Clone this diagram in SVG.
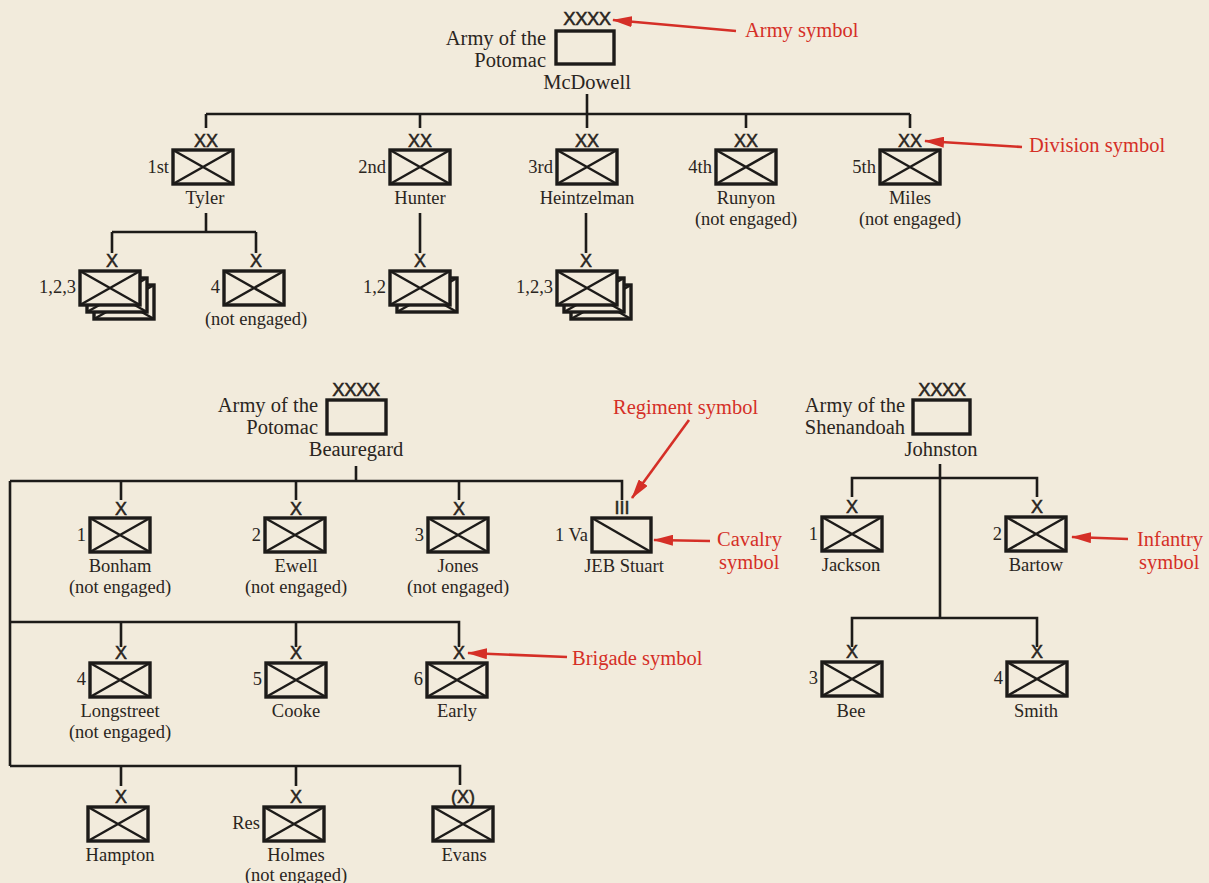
<svg xmlns="http://www.w3.org/2000/svg" width="1209" height="883" viewBox="0 0 1209 883">
<defs>
<style>
.bg{fill:#f2ebdc}
.ln{stroke:#1d1b19;stroke-width:2.6;fill:none}
.box{stroke:#1d1b19;stroke-width:3.4;fill:none}
.boxf{stroke:#1d1b19;stroke-width:3.4;fill:#f2ebdc}
.cr{stroke:#1d1b19;stroke-width:2.5;fill:none}
.t{font-family:"Liberation Serif","Times New Roman",serif;font-size:18.5px;fill:#2a2521}
.big{font-size:20.5px}
.m{text-anchor:middle}
.e{text-anchor:end}
.s{font-family:"Liberation Sans",Arial,sans-serif;font-size:18px;fill:#2a2521;stroke:#2a2521;stroke-width:0.5;text-anchor:middle}
.a4{font-size:18.5px;letter-spacing:-0.5px}
.r{font-family:"Liberation Serif","Times New Roman",serif;font-size:20.5px;fill:#d52f27}
.ra{stroke:#d52f27;stroke-width:2.6;fill:none}
</style>
<marker id="ah" viewBox="0 0 20 11" refX="19" refY="5.5" markerWidth="20" markerHeight="11" markerUnits="userSpaceOnUse" orient="auto"><path d="M0,0 L20,5.5 L0,11 Z" fill="#d52f27"/></marker>
<g id="inf"><rect width="60" height="34" class="boxf"/><path d="M0,0L60,34M60,0L0,34" class="cr"/></g>
</defs>
<rect width="1209" height="883" class="bg"/>

<g id="connectors">
<path class="ln" d="M587,94V114M206,114H910M206,114V128M420,114V128M587,114V128M746,114V128M910,114V128"/>
<path class="ln" d="M206,213V232M112,232H256M112,232V253M256,232V253M420,213V253M586,213V253"/>
<path class="ln" d="M356,466V481M10,481H622V500M10,481V766M121,481V500M296,481V500M459,481V500"/>
<path class="ln" d="M10,622H459V647M121,622V647M296,622V647"/>
<path class="ln" d="M10,766H460V785M121,766V786M296,766V786"/>
<path class="ln" d="M940,464V618M852,497V478H1037V497M852,647V618H1037V647"/>
</g>

<g id="army-potomac-union">
<text class="s a4" x="587" y="25">XXXX</text>
<rect class="box" x="556" y="31" width="58" height="33"/>
<text class="t big e" x="546" y="45">Army of the</text>
<text class="t big e" x="546" y="67">Potomac</text>
<text class="t big m" x="587" y="89">McDowell</text>
</g>

<g id="div-1st">
<text class="s" x="206" y="147">XX</text>
<use href="#inf" x="173" y="150"/>
<text class="t e" x="169" y="173">1st</text>
<text class="t m" x="205" y="204">Tyler</text>
</g>
<g id="div-2nd">
<text class="s" x="420" y="147">XX</text>
<use href="#inf" x="390" y="150"/>
<text class="t e" x="386" y="173">2nd</text>
<text class="t m" x="420" y="204">Hunter</text>
</g>
<g id="div-3rd">
<text class="s" x="587" y="147">XX</text>
<use href="#inf" x="557" y="150"/>
<text class="t e" x="553" y="173">3rd</text>
<text class="t m" x="587" y="204">Heintzelman</text>
</g>
<g id="div-4th">
<text class="s" x="746" y="147">XX</text>
<use href="#inf" x="716" y="150"/>
<text class="t e" x="712" y="173">4th</text>
<text class="t m" x="746" y="204">Runyon</text>
<text class="t m" x="746" y="225">(not engaged)</text>
</g>
<g id="div-5th">
<text class="s" x="910" y="147">XX</text>
<use href="#inf" x="880" y="150"/>
<text class="t e" x="876" y="173">5th</text>
<text class="t m" x="910" y="204">Miles</text>
<text class="t m" x="910" y="225">(not engaged)</text>
</g>

<g id="tyler-bde-123">
<text class="s" x="112" y="267">X</text>
<use href="#inf" x="94" y="285"/>
<use href="#inf" x="87" y="278"/>
<use href="#inf" x="80" y="271"/>
<text class="t e" x="76" y="293">1,2,3</text>
</g>
<g id="tyler-bde-4">
<text class="s" x="256" y="267">X</text>
<use href="#inf" x="224" y="271"/>
<text class="t e" x="220" y="293">4</text>
<text class="t m" x="256" y="325">(not engaged)</text>
</g>
<g id="hunter-bde-12">
<text class="s" x="420" y="267">X</text>
<use href="#inf" x="397" y="278"/>
<use href="#inf" x="390" y="271"/>
<text class="t e" x="386" y="293">1,2</text>
</g>
<g id="heintzelman-bde-123">
<text class="s" x="586" y="267">X</text>
<use href="#inf" x="571" y="285"/>
<use href="#inf" x="564" y="278"/>
<use href="#inf" x="557" y="271"/>
<text class="t e" x="553" y="293">1,2,3</text>
</g>

<g id="army-potomac-confed">
<text class="s a4" x="356" y="396">XXXX</text>
<rect class="box" x="327" y="400" width="59" height="34"/>
<text class="t big e" x="318" y="412">Army of the</text>
<text class="t big e" x="318" y="434">Potomac</text>
<text class="t big m" x="356" y="456">Beauregard</text>
</g>

<g id="bonham">
<text class="s" x="121" y="515">X</text>
<use href="#inf" x="90" y="518"/>
<text class="t e" x="86" y="541">1</text>
<text class="t m" x="120" y="572">Bonham</text>
<text class="t m" x="120" y="593">(not engaged)</text>
</g>
<g id="ewell">
<text class="s" x="296" y="515">X</text>
<use href="#inf" x="265" y="518"/>
<text class="t e" x="261" y="541">2</text>
<text class="t m" x="296" y="572">Ewell</text>
<text class="t m" x="296" y="593">(not engaged)</text>
</g>
<g id="jones">
<text class="s" x="459" y="515">X</text>
<use href="#inf" x="428" y="518"/>
<text class="t e" x="424" y="541">3</text>
<text class="t m" x="458" y="572">Jones</text>
<text class="t m" x="458" y="593">(not engaged)</text>
</g>
<g id="stuart">
<text class="s" x="622" y="514">III</text>
<rect class="box" x="592" y="518" width="59" height="34"/>
<path class="cr" d="M592,518L651,552"/>
<text class="t e" x="588" y="541">1 Va</text>
<text class="t m" x="624" y="572">JEB Stuart</text>
</g>

<g id="longstreet">
<text class="s" x="121" y="659">X</text>
<use href="#inf" x="90" y="663"/>
<text class="t e" x="86" y="685">4</text>
<text class="t m" x="120" y="717">Longstreet</text>
<text class="t m" x="120" y="738">(not engaged)</text>
</g>
<g id="cooke">
<text class="s" x="296" y="659">X</text>
<use href="#inf" x="266" y="663"/>
<text class="t e" x="262" y="685">5</text>
<text class="t m" x="296" y="717">Cooke</text>
</g>
<g id="early">
<text class="s" x="459" y="659">X</text>
<use href="#inf" x="427" y="663"/>
<text class="t e" x="423" y="685">6</text>
<text class="t m" x="457" y="717">Early</text>
</g>

<g id="hampton">
<text class="s" x="121" y="803">X</text>
<use href="#inf" x="88" y="807"/>
<text class="t m" x="120" y="861">Hampton</text>
</g>
<g id="holmes">
<text class="s" x="296" y="803">X</text>
<use href="#inf" x="264" y="807"/>
<text class="t e" x="260" y="829">Res</text>
<text class="t m" x="296" y="861">Holmes</text>
<text class="t m" x="296" y="881">(not engaged)</text>
</g>
<g id="evans">
<text class="s" x="463" y="803">(X)</text>
<use href="#inf" x="433" y="807"/>
<text class="t m" x="464" y="861">Evans</text>
</g>

<g id="army-shenandoah">
<text class="s a4" x="942" y="396">XXXX</text>
<rect class="box" x="913" y="400" width="57" height="34"/>
<text class="t big e" x="905" y="412">Army of the</text>
<text class="t big e" x="905" y="434">Shenandoah</text>
<text class="t big m" x="941" y="456">Johnston</text>
</g>
<g id="jackson">
<text class="s" x="852" y="513">X</text>
<use href="#inf" x="822" y="517"/>
<text class="t e" x="818" y="540">1</text>
<text class="t m" x="851" y="571">Jackson</text>
</g>
<g id="bartow">
<text class="s" x="1037" y="513">X</text>
<use href="#inf" x="1006" y="517"/>
<text class="t e" x="1002" y="540">2</text>
<text class="t m" x="1036" y="571">Bartow</text>
</g>
<g id="bee">
<text class="s" x="852" y="658">X</text>
<use href="#inf" x="822" y="662"/>
<text class="t e" x="818" y="684">3</text>
<text class="t m" x="851" y="717">Bee</text>
</g>
<g id="smith">
<text class="s" x="1037" y="658">X</text>
<use href="#inf" x="1007" y="662"/>
<text class="t e" x="1003" y="684">4</text>
<text class="t m" x="1036" y="717">Smith</text>
</g>

<g id="annotations">
<path class="ra" d="M736,31L613,20" marker-end="url(#ah)"/>
<text class="r" x="745" y="37">Army symbol</text>
<path class="ra" d="M1022,147L925,141" marker-end="url(#ah)"/>
<text class="r" x="1029" y="152">Division symbol</text>
<path class="ra" d="M689,420L632,498" marker-end="url(#ah)"/>
<text class="r" x="613" y="414">Regiment symbol</text>
<path class="ra" d="M710,541L654,540" marker-end="url(#ah)"/>
<text class="r" x="717" y="546">Cavalry</text>
<text class="r" x="719" y="569">symbol</text>
<path class="ra" d="M1128,539L1072,537" marker-end="url(#ah)"/>
<text class="r" x="1137" y="546">Infantry</text>
<text class="r" x="1139" y="569">symbol</text>
<path class="ra" d="M567,657L468,653" marker-end="url(#ah)"/>
<text class="r" x="572" y="665">Brigade symbol</text>
</g>
</svg>
